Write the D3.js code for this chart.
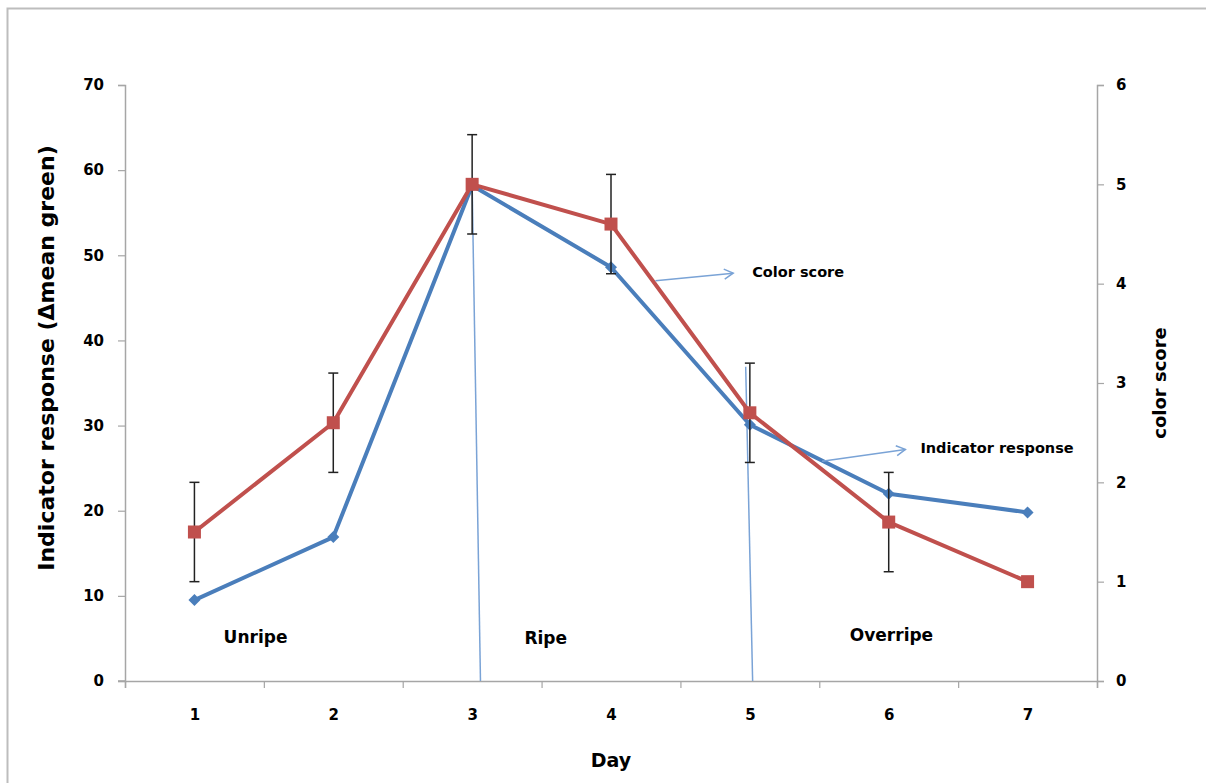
<html>
<head>
<title>Indicator response and color score</title>
<style>
  body { margin: 0; background: #fff; }
  text { font-family: "DejaVu Sans", sans-serif; font-weight: bold; fill: #000; }
</style>
</head>
<body>
<div id="chart"></div>
<script src="https://d3js.org/d3.v7.min.js"></script>
<script>
// data
var days = [1, 2, 3, 4, 5, 6, 7];
var indicatorResponse = [9.5, 16.9, 58.2, 48.6, 30.1, 22.0, 19.8];   // left axis
var colorScore = [1.5, 2.6, 5.0, 4.6, 2.7, 1.6, 1.0];                // right axis
var colorScoreErr = [0.5, 0.5, 0.5, 0.5, 0.5, 0.5, 0];
var leftTicks = [0, 10, 20, 30, 40, 50, 60, 70];
var rightTicks = [0, 1, 2, 3, 4, 5, 6];
var stageNames = ["Unripe", "Ripe", "Overripe"];
var stageDay = [1.44, 3.53, 6.02];
var stageValue = [4.5, 4.4, 4.7];
// divider lines, in day / left-axis units
var dividerTop = [[3.0, 58.2], [4.97, 36.9]];
var dividerBottom = [[3.06, 0], [5.02, 0]];
// arrow annotations
var noteNames = ["Color score", "Indicator response"];
var arrowFrom = [[4.32, 47.0], [5.52, 25.8]];
var arrowTo = [[4.88, 47.9], [6.12, 27.2]];

var W = 1206, H = 783;
var font = '"DejaVu Sans", sans-serif';
var svg = d3.select('#chart').append('svg')
    .attr('width', W)
    .attr('height', H);

svg.append('rect')
    .attr('x', 7.5).attr('y', 8.5)
    .attr('width', W + 10).attr('height', H + 10)
    .attr('fill', 'none')
    .attr('stroke', '#bdbdbd')
    .attr('stroke-width', 2);

var x = d3.scaleLinear().domain([0.5, 7.5]).range([125, 1097]);
var yL = d3.scaleLinear().domain([0, 70]).range([681, 85]);
var yR = d3.scaleLinear().domain([0, 6]).range([681, 85]);

var axisColor = '#a6a6a6';

// left axis
var gl = svg.append('g').attr('transform', 'translate(125,0)')
    .call(d3.axisLeft(yL).tickValues(leftTicks).tickSize(7).tickPadding(14));
// right axis
var gr = svg.append('g').attr('transform', 'translate(1097,0)')
    .call(d3.axisRight(yR).tickValues(rightTicks).tickSize(7).tickPadding(12).tickFormat(d3.format('d')));
// x axis: ticks at the band edges, labels in the middle
var gx = svg.append('g').attr('transform', 'translate(0,681)')
    .call(d3.axisBottom(x).tickValues(d3.range(0.5, 8, 1)).tickSize(7).tickFormat(''));
var gxl = svg.append('g').attr('transform', 'translate(0,681)')
    .call(d3.axisBottom(x).tickValues(days).tickSize(0).tickPadding(28).tickFormat(d3.format('d')));
gxl.select('.domain').remove();

[gl, gr, gx].forEach(function (g) {
    g.select('.domain').attr('stroke', axisColor).attr('stroke-width', 1.5);
    g.selectAll('.tick line').attr('stroke', axisColor).attr('stroke-width', 1.2);
});
[gl, gr, gxl].forEach(function (g) {
    g.selectAll('.tick text')
        .style('font-family', font)
        .style('font-weight', 'bold')
        .style('font-size', '15px')
        .attr('fill', '#000');
});
svg.append('line')
    .attr('x1', 118).attr('x2', 125)
    .attr('y1', 681).attr('y2', 681)
    .attr('stroke', axisColor).attr('stroke-width', 1.5);

// axis titles
svg.append('text')
    .attr('transform', 'translate(54,358) rotate(-90)')
    .attr('text-anchor', 'middle')
    .style('font-size', '22px')
    .text('Indicator response (\u0394mean green)');
svg.append('text')
    .attr('transform', 'translate(1166,383) rotate(-90)')
    .attr('text-anchor', 'middle')
    .style('font-size', '18px')
    .text('color score');
svg.append('text')
    .attr('x', 611).attr('y', 767)
    .attr('text-anchor', 'middle')
    .style('font-size', '19px')
    .text('Day');

// stage labels
svg.selectAll('.stage')
    .data(stageNames)
    .enter()
    .append('text')
    .attr('class', 'stage')
    .attr('x', function (d, i) { return x(stageDay[i]); })
    .attr('y', function (d, i) { return yL(stageValue[i]); })
    .attr('text-anchor', 'middle')
    .style('font-size', '17px')
    .text(function (d) { return d; });

// divider lines
var lineColor = '#7aa3d6';
svg.selectAll('.divider')
    .data(dividerTop)
    .enter()
    .append('line')
    .attr('class', 'divider')
    .attr('x1', function (d) { return x(d[0]); })
    .attr('y1', function (d) { return yL(d[1]); })
    .attr('x2', function (d, i) { return x(dividerBottom[i][0]); })
    .attr('y2', function (d, i) { return yL(dividerBottom[i][1]); })
    .attr('stroke', lineColor)
    .attr('stroke-width', 1.5);

// indicator response (blue)
var blue = '#4a7ebb', red = '#c0504d';
var lineL = d3.line()
    .x(function (d, i) { return x(days[i]); })
    .y(function (d) { return yL(d); });
svg.append('path')
    .datum(indicatorResponse)
    .attr('d', lineL)
    .attr('fill', 'none')
    .attr('stroke', blue)
    .attr('stroke-width', 4)
    .attr('stroke-linejoin', 'round');
svg.selectAll('.diamond')
    .data(indicatorResponse)
    .enter()
    .append('path')
    .attr('class', 'diamond')
    .attr('d', 'M0,-6L6,0L0,6L-6,0Z')
    .attr('transform', function (d, i) { return 'translate(' + x(days[i]) + ',' + yL(d) + ')'; })
    .attr('fill', blue);

// colour score error bars
var bars = svg.selectAll('.err')
    .data(colorScore.filter(function (d, i) { return colorScoreErr[i] > 0; }))
    .enter()
    .append('g')
    .attr('class', 'err')
    .attr('stroke', '#222')
    .attr('stroke-width', 1.5);
bars.append('line')
    .attr('x1', function (d, i) { return x(days[i]); })
    .attr('x2', function (d, i) { return x(days[i]); })
    .attr('y1', function (d, i) { return yR(d + colorScoreErr[i]); })
    .attr('y2', function (d, i) { return yR(d - colorScoreErr[i]); });
bars.append('line')
    .attr('x1', function (d, i) { return x(days[i]) - 5; })
    .attr('x2', function (d, i) { return x(days[i]) + 5; })
    .attr('y1', function (d, i) { return yR(d + colorScoreErr[i]); })
    .attr('y2', function (d, i) { return yR(d + colorScoreErr[i]); });
bars.append('line')
    .attr('x1', function (d, i) { return x(days[i]) - 5; })
    .attr('x2', function (d, i) { return x(days[i]) + 5; })
    .attr('y1', function (d, i) { return yR(d - colorScoreErr[i]); })
    .attr('y2', function (d, i) { return yR(d - colorScoreErr[i]); });

// colour score (red)
var lineR = d3.line()
    .x(function (d, i) { return x(days[i]); })
    .y(function (d) { return yR(d); });
svg.append('path')
    .datum(colorScore)
    .attr('d', lineR)
    .attr('fill', 'none')
    .attr('stroke', red)
    .attr('stroke-width', 4)
    .attr('stroke-linejoin', 'round');
svg.selectAll('.square')
    .data(colorScore)
    .enter()
    .append('rect')
    .attr('class', 'square')
    .attr('x', function (d, i) { return x(days[i]) - 6.5; })
    .attr('y', function (d) { return yR(d) - 6.5; })
    .attr('width', 13)
    .attr('height', 13)
    .attr('fill', red);

// arrows with notes
var arrows = svg.selectAll('.note')
    .data(noteNames)
    .enter()
    .append('g')
    .attr('class', 'note');
arrows.append('line')
    .attr('x1', function (d, i) { return x(arrowFrom[i][0]); })
    .attr('y1', function (d, i) { return yL(arrowFrom[i][1]); })
    .attr('x2', function (d, i) { return x(arrowTo[i][0]); })
    .attr('y2', function (d, i) { return yL(arrowTo[i][1]); })
    .attr('stroke', lineColor)
    .attr('stroke-width', 1.5);
arrows.append('path')
    .attr('d', 'M-9,-5L0,0L-9,5')
    .attr('fill', 'none')
    .attr('stroke', lineColor)
    .attr('stroke-width', 1.5)
    .attr('transform', function (d, i) {
        var x1 = x(arrowFrom[i][0]), y1 = yL(arrowFrom[i][1]);
        var x2 = x(arrowTo[i][0]), y2 = yL(arrowTo[i][1]);
        var a = Math.atan2(y2 - y1, x2 - x1) * 180 / Math.PI;
        return 'translate(' + x2 + ',' + y2 + ') rotate(' + a + ')';
    });
arrows.append('text')
    .attr('x', function (d, i) { return x(arrowTo[i][0]) + (i === 0 ? 19 : 15); })
    .attr('y', function (d, i) { return yL(arrowTo[i][1]) + 4; })
    .style('font-size', '14.5px')
    .text(function (d) { return d; });
</script>
</body>
</html>
